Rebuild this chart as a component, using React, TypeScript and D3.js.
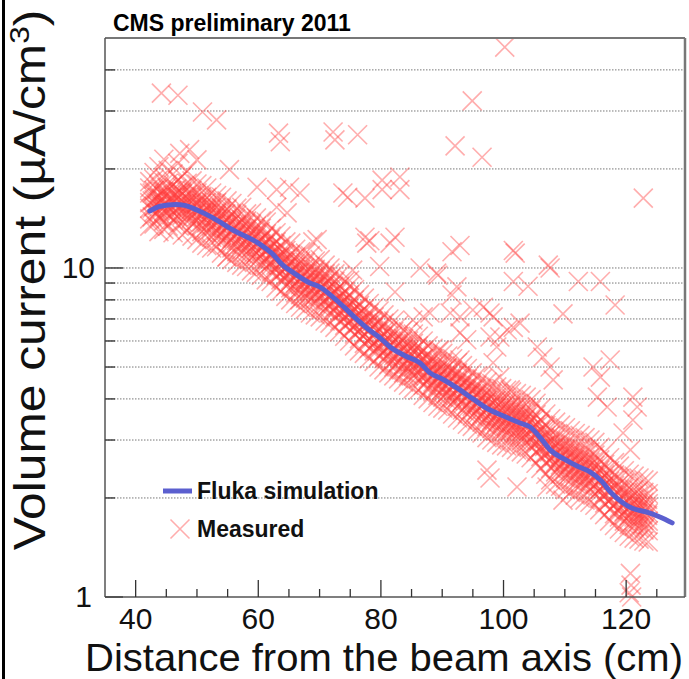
import React from "react";
import * as d3 from "d3";

const W = 689;
const H = 679;

// Fluka simulation curve (distance cm, current µA/cm³)
const flukaX = [42.3, 44, 46.5, 48, 50, 52.6, 56, 60, 62.4, 64, 66, 68.4, 70, 71.7, 74, 76, 78, 80, 81.5, 84, 86.4, 88, 90, 92.9, 95, 97.8, 100, 102.7, 104.3, 106, 107.6, 110, 112, 114.1, 116, 117.5, 119.5, 121, 123.4, 125.5, 127.5];
const flukaY = [14.9, 15.4, 15.6, 15.5, 15.0, 14.2, 13.0, 11.9, 11.0, 10.2, 9.6, 9.0, 8.76, 8.3, 7.6, 7.0, 6.5, 6.1, 5.75, 5.4, 5.14, 4.8, 4.6, 4.26, 4.0, 3.7, 3.55, 3.38, 3.29, 3.05, 2.8, 2.62, 2.5, 2.4, 2.25, 2.08, 1.93, 1.86, 1.81, 1.75, 1.68];

// Measured points: wide band, grouped by distance
const measuredBand: [number, number[]][] = [
  [42.3, [13.4, 14.1, 15.2, 15.8, 16.9, 17.5, 18.3]],
  [43.0, [13.6, 14.8, 15.4, 16.1, 17.2, 18.6, 19.5]],
  [43.8, [12.9, 14.2, 15.0, 15.9, 16.4, 17.8, 20.3]],
  [44.6, [13.1, 13.9, 14.9, 15.6, 16.5, 17.1, 18.8, 21.4]],
  [45.3, [13.4, 14.6, 15.3, 16.2, 17.3, 18.1, 19.8]],
  [46.1, [12.8, 14.0, 14.8, 15.9, 16.6, 17.9, 19.3]],
  [46.9, [13.5, 14.3, 15.2, 16.3, 17.0, 18.5, 20.8]],
  [47.6, [12.6, 13.8, 14.9, 15.6, 16.8, 17.6, 19.0]],
  [48.4, [13.0, 14.2, 15.1, 15.8, 16.7, 18.1, 19.7]],
  [49.2, [12.5, 13.6, 14.4, 15.4, 16.4, 17.2, 18.4]],
  [50.0, [12.2, 13.4, 14.3, 15.0, 15.8, 16.9, 18.0]],
  [50.8, [11.9, 12.9, 13.8, 14.7, 15.7, 16.5, 17.8]],
  [51.6, [11.7, 12.8, 13.7, 14.6, 15.3, 16.4, 17.5]],
  [52.4, [11.5, 12.4, 13.4, 14.1, 15.1, 15.8, 16.9]],
  [53.2, [11.6, 12.3, 13.0, 13.9, 14.7, 15.8, 16.6]],
  [54.0, [11.1, 12.1, 12.8, 13.6, 14.5, 15.2, 16.4]],
  [54.9, [10.8, 11.8, 12.5, 13.4, 14.0, 15.1, 16.0]],
  [55.7, [10.6, 11.5, 12.3, 13.1, 13.8, 14.6, 15.7]],
  [56.5, [10.4, 11.2, 12.1, 12.8, 13.5, 14.5, 15.2]],
  [57.3, [10.2, 11.1, 11.8, 12.6, 13.3, 14.0, 15.3]],
  [58.1, [10.1, 10.8, 11.6, 12.2, 13.1, 13.9, 14.6]],
  [58.9, [9.8, 10.7, 11.5, 12.1, 12.8, 13.6, 14.7]],
  [59.7, [9.7, 10.5, 11.1, 11.9, 12.7, 13.4, 14.2]],
  [60.5, [9.5, 10.2, 11.0, 11.6, 12.2, 13.2, 13.9]],
  [61.3, [9.2, 10.1, 10.7, 11.4, 12.0, 12.7, 13.8]],
  [62.1, [9.1, 9.7, 10.4, 11.1, 11.6, 12.5, 13.2]],
  [62.9, [8.7, 9.5, 10.2, 10.7, 11.4, 12.0, 12.8]],
  [63.7, [8.5, 9.2, 9.7, 10.4, 10.9, 11.7, 12.5]],
  [64.5, [8.2, 8.8, 9.5, 10.0, 10.7, 11.3, 12.0]],
  [65.3, [8.0, 8.7, 9.2, 9.8, 10.4, 11.0, 11.9]],
  [66.1, [7.8, 8.4, 9.0, 9.6, 10.1, 10.8, 11.4]],
  [66.9, [7.6, 8.3, 8.9, 9.3, 9.9, 10.5, 11.2]],
  [67.7, [7.5, 8.1, 8.6, 9.2, 9.7, 10.4, 11.1]],
  [68.5, [7.3, 8.0, 8.5, 9.0, 9.5, 10.1, 10.9]],
  [69.3, [7.2, 7.8, 8.3, 8.8, 9.4, 9.9, 10.5]],
  [70.1, [7.1, 7.6, 8.2, 8.7, 9.2, 9.8, 10.6]],
  [70.9, [6.9, 7.5, 8.0, 8.5, 9.0, 9.6, 10.2]],
  [71.7, [6.8, 7.3, 7.8, 8.3, 8.8, 9.3, 10.0]],
  [72.5, [6.6, 7.1, 7.6, 8.0, 8.5, 9.1, 9.6]],
  [73.3, [6.4, 6.9, 7.4, 7.8, 8.2, 8.8, 9.5]],
  [74.1, [6.2, 6.7, 7.1, 7.5, 8.0, 8.5, 9.1]],
  [74.9, [6.0, 6.5, 6.9, 7.3, 7.8, 8.3, 8.8]],
  [75.7, [5.8, 6.3, 6.7, 7.1, 7.5, 8.0, 8.6]],
  [76.5, [5.6, 6.1, 6.5, 6.9, 7.3, 7.7, 8.3]],
  [77.3, [5.5, 5.9, 6.3, 6.7, 7.0, 7.5, 8.1]],
  [78.1, [5.3, 5.7, 6.1, 6.5, 6.9, 7.3, 7.8]],
  [78.9, [5.2, 5.6, 5.9, 6.3, 6.7, 7.1, 7.6]],
  [79.7, [5.0, 5.4, 5.8, 6.1, 6.5, 6.9, 7.4]],
  [80.5, [4.9, 5.3, 5.6, 6.0, 6.3, 6.8, 7.2]],
  [81.3, [4.8, 5.1, 5.5, 5.8, 6.1, 6.5, 7.0]],
  [82.1, [4.7, 5.0, 5.4, 5.7, 6.0, 6.4, 6.9]],
  [82.9, [4.6, 4.9, 5.2, 5.5, 5.9, 6.2, 6.7]],
  [83.7, [4.5, 4.8, 5.1, 5.4, 5.7, 6.1, 6.5]],
  [84.5, [4.4, 4.7, 5.0, 5.3, 5.6, 6.0, 6.4]],
  [85.3, [4.3, 4.7, 5.0, 5.2, 5.6, 5.9, 6.3]],
  [86.1, [4.25, 4.6, 4.9, 5.2, 5.5, 5.8, 6.2]],
  [86.9, [4.1, 4.4, 4.7, 5.0, 5.3, 5.6, 6.0]],
  [87.7, [4.0, 4.3, 4.6, 4.85, 5.1, 5.45, 5.8]],
  [88.5, [3.9, 4.2, 4.5, 4.75, 5.0, 5.3, 5.7]],
  [89.3, [3.8, 4.1, 4.4, 4.65, 4.9, 5.2, 5.6]],
  [90.1, [3.75, 4.05, 4.3, 4.6, 4.85, 5.15, 5.5]],
  [90.9, [3.7, 3.95, 4.2, 4.5, 4.75, 5.0, 5.4]],
  [91.7, [3.6, 3.9, 4.15, 4.4, 4.65, 4.9, 5.3]],
  [92.5, [3.5, 3.8, 4.05, 4.3, 4.55, 4.8, 5.15]],
  [93.3, [3.45, 3.7, 3.95, 4.2, 4.45, 4.7, 5.05]],
  [94.1, [3.35, 3.6, 3.85, 4.1, 4.35, 4.6, 4.95]],
  [94.9, [3.3, 3.55, 3.8, 4.0, 4.25, 4.5, 4.8]],
  [95.7, [3.2, 3.45, 3.7, 3.9, 4.15, 4.4, 4.7]],
  [96.5, [3.15, 3.4, 3.6, 3.85, 4.05, 4.3, 4.6]],
  [97.3, [3.05, 3.3, 3.55, 3.75, 3.95, 4.2, 4.5]],
  [98.1, [3.0, 3.25, 3.45, 3.65, 3.9, 4.15, 4.45]],
  [98.9, [2.95, 3.2, 3.4, 3.6, 3.8, 4.05, 4.35]],
  [99.7, [2.9, 3.15, 3.35, 3.55, 3.75, 4.0, 4.3]],
  [100.5, [2.88, 3.1, 3.3, 3.5, 3.72, 3.95, 4.25]],
  [101.3, [2.85, 3.05, 3.28, 3.45, 3.68, 3.9, 4.2]],
  [102.1, [2.8, 3.0, 3.22, 3.4, 3.62, 3.85, 4.15]],
  [102.9, [2.76, 2.98, 3.18, 3.38, 3.58, 3.8, 4.1]],
  [103.7, [2.72, 2.94, 3.13, 3.32, 3.52, 3.75, 4.05]],
  [104.5, [2.65, 2.88, 3.07, 3.25, 3.46, 3.7, 3.98]],
  [105.3, [2.55, 2.76, 2.96, 3.15, 3.35, 3.58, 3.88]],
  [106.1, [2.46, 2.67, 2.86, 3.03, 3.22, 3.45, 3.75]],
  [106.9, [2.36, 2.56, 2.74, 2.9, 3.1, 3.32, 3.6]],
  [107.7, [2.27, 2.46, 2.64, 2.8, 2.98, 3.2, 3.48]],
  [108.5, [2.2, 2.4, 2.57, 2.73, 2.9, 3.12, 3.4]],
  [109.3, [2.17, 2.36, 2.52, 2.68, 2.86, 3.06, 3.33]],
  [110.1, [2.12, 2.3, 2.46, 2.62, 2.8, 3.0, 3.27]],
  [110.9, [2.08, 2.26, 2.42, 2.57, 2.74, 2.94, 3.2]],
  [111.7, [2.04, 2.21, 2.37, 2.52, 2.69, 2.88, 3.14]],
  [112.5, [2.0, 2.18, 2.33, 2.48, 2.65, 2.84, 3.1]],
  [113.3, [1.97, 2.14, 2.29, 2.44, 2.61, 2.8, 3.05]],
  [114.1, [1.94, 2.11, 2.25, 2.4, 2.57, 2.76, 3.0]],
  [114.9, [1.9, 2.06, 2.2, 2.35, 2.51, 2.7, 2.95]],
  [115.7, [1.84, 1.99, 2.13, 2.27, 2.43, 2.61, 2.85]],
  [116.5, [1.78, 1.93, 2.07, 2.2, 2.35, 2.53, 2.76]],
  [117.3, [1.7, 1.84, 1.97, 2.1, 2.25, 2.42, 2.65]],
  [118.1, [1.65, 1.79, 1.91, 2.04, 2.18, 2.35, 2.56]],
  [118.9, [1.61, 1.75, 1.87, 1.99, 2.13, 2.29, 2.5]],
  [119.7, [1.57, 1.7, 1.82, 1.93, 2.07, 2.22, 2.42]],
  [120.5, [1.53, 1.66, 1.77, 1.88, 2.01, 2.16, 2.36]],
  [121.3, [1.51, 1.64, 1.75, 1.86, 1.99, 2.13, 2.33]],
  [122.1, [1.5, 1.62, 1.73, 1.84, 1.97, 2.11, 2.3]],
  [122.9, [1.48, 1.6, 1.71, 1.82, 1.94, 2.08, 2.27]],
  [123.6, [1.47, 1.59, 1.7, 1.8, 1.92, 2.06, 2.25]],
];

// Measured points: dense core close to the simulation
const measuredCore: [number, number[]][] = [
  [42.7, [14.3, 15.2, 16.0, 16.9]], [43.5, [14.6, 15.5, 16.4, 17.3]], [44.3, [14.4, 15.4, 16.2, 17.1]],
  [45.1, [14.7, 15.6, 16.5, 17.6]], [45.9, [14.5, 15.3, 16.3, 17.2]], [46.7, [14.8, 15.7, 16.6, 17.4]],
  [47.5, [14.4, 15.4, 16.1, 17.0]], [48.3, [14.6, 15.5, 16.4, 17.3]], [49.1, [14.2, 15.1, 15.9, 16.8]],
  [49.9, [13.9, 14.8, 15.6, 16.4]], [50.7, [13.5, 14.4, 15.2, 16.1]], [51.5, [13.3, 14.2, 15.0, 15.8]],
  [52.3, [13.1, 13.9, 14.7, 15.5]], [53.1, [12.8, 13.7, 14.4, 15.3]], [53.9, [12.6, 13.4, 14.1, 14.9]],
  [54.7, [12.3, 13.2, 13.9, 14.6]], [55.5, [12.1, 12.9, 13.6, 14.4]], [56.3, [11.8, 12.6, 13.3, 14.1]],
  [57.1, [11.6, 12.4, 13.0, 13.8]], [57.9, [11.4, 12.2, 12.8, 13.6]], [58.7, [11.2, 12.0, 12.6, 13.4]],
  [59.5, [11.0, 11.8, 12.4, 13.1]], [60.3, [10.8, 11.6, 12.1, 12.9]], [61.1, [10.5, 11.2, 11.8, 12.5]],
  [61.9, [10.3, 11.0, 11.5, 12.2]], [62.7, [9.9, 10.6, 11.2, 11.8]], [63.5, [9.6, 10.2, 10.8, 11.4]],
  [64.3, [9.3, 9.9, 10.4, 11.0]], [65.1, [9.0, 9.6, 10.2, 10.7]], [65.9, [8.8, 9.4, 9.9, 10.5]],
  [66.7, [8.6, 9.2, 9.7, 10.3]], [67.5, [8.5, 9.0, 9.5, 10.0]], [68.3, [8.3, 8.9, 9.3, 9.9]],
  [69.1, [8.2, 8.7, 9.2, 9.7]], [69.9, [8.1, 8.6, 9.0, 9.6]], [70.7, [7.9, 8.4, 8.8, 9.4]],
  [71.5, [7.7, 8.2, 8.6, 9.1]], [72.3, [7.4, 7.9, 8.4, 8.8]], [73.1, [7.2, 7.7, 8.1, 8.6]],
  [73.9, [7.0, 7.4, 7.9, 8.3]], [74.7, [6.8, 7.2, 7.6, 8.1]], [75.5, [6.6, 7.0, 7.4, 7.8]],
  [76.3, [6.4, 6.8, 7.2, 7.6]], [77.1, [6.2, 6.6, 6.9, 7.3]], [77.9, [6.0, 6.4, 6.7, 7.1]],
  [78.7, [5.8, 6.2, 6.6, 6.9]], [79.5, [5.7, 6.1, 6.4, 6.8]], [80.3, [5.5, 5.9, 6.2, 6.6]],
  [81.1, [5.4, 5.7, 6.0, 6.4]], [81.9, [5.2, 5.6, 5.9, 6.2]], [82.7, [5.15, 5.5, 5.8, 6.1]],
  [83.5, [5.0, 5.4, 5.65, 6.0]], [84.3, [4.95, 5.25, 5.55, 5.85]], [85.1, [4.85, 5.2, 5.45, 5.75]],
  [85.9, [4.8, 5.1, 5.4, 5.7]], [86.7, [4.65, 4.95, 5.25, 5.55]], [87.5, [4.5, 4.8, 5.05, 5.35]],
  [88.3, [4.4, 4.7, 4.9, 5.2]], [89.1, [4.3, 4.6, 4.85, 5.1]], [89.9, [4.25, 4.5, 4.75, 5.0]],
  [90.7, [4.15, 4.4, 4.65, 4.95]], [91.5, [4.05, 4.35, 4.55, 4.85]], [92.3, [4.0, 4.25, 4.45, 4.75]],
  [93.1, [3.9, 4.15, 4.35, 4.6]], [93.9, [3.8, 4.05, 4.25, 4.5]], [94.7, [3.7, 3.95, 4.15, 4.4]],
  [95.5, [3.65, 3.85, 4.1, 4.3]], [96.3, [3.55, 3.8, 4.0, 4.2]], [97.1, [3.45, 3.7, 3.9, 4.1]],
  [97.9, [3.4, 3.6, 3.8, 4.05]], [98.7, [3.35, 3.55, 3.75, 3.95]], [99.5, [3.3, 3.5, 3.7, 3.9]],
  [100.3, [3.25, 3.45, 3.65, 3.85]], [101.1, [3.2, 3.4, 3.6, 3.8]], [101.9, [3.15, 3.35, 3.55, 3.75]],
  [102.7, [3.1, 3.3, 3.5, 3.7]], [103.5, [3.05, 3.27, 3.45, 3.65]], [104.3, [3.0, 3.22, 3.4, 3.6]],
  [105.1, [2.92, 3.1, 3.28, 3.48]], [105.9, [2.82, 3.0, 3.17, 3.36]], [106.7, [2.7, 2.87, 3.03, 3.22]],
  [107.5, [2.59, 2.76, 2.91, 3.08]], [108.3, [2.52, 2.68, 2.84, 3.0]], [109.1, [2.47, 2.63, 2.78, 2.94]],
  [109.9, [2.41, 2.57, 2.72, 2.88]], [110.7, [2.36, 2.52, 2.67, 2.82]], [111.5, [2.32, 2.47, 2.62, 2.77]],
  [112.3, [2.28, 2.43, 2.57, 2.72]], [113.1, [2.24, 2.39, 2.53, 2.68]], [113.9, [2.21, 2.35, 2.49, 2.64]],
  [114.7, [2.17, 2.31, 2.45, 2.59]], [115.5, [2.1, 2.24, 2.38, 2.52]], [116.3, [2.03, 2.17, 2.29, 2.43]],
  [117.1, [1.95, 2.08, 2.2, 2.33]], [117.9, [1.89, 2.01, 2.13, 2.26]], [118.7, [1.83, 1.95, 2.07, 2.19]],
  [119.5, [1.77, 1.89, 2.0, 2.12]], [120.3, [1.74, 1.85, 1.96, 2.08]], [121.1, [1.7, 1.82, 1.92, 2.04]],
  [121.9, [1.69, 1.8, 1.9, 2.02]], [122.7, [1.67, 1.78, 1.89, 2.0]], [123.5, [1.66, 1.77, 1.87, 1.98]],
];

// Measured points: scattered outliers
const outliers: [number, number][] = [
  [44.2, 34.0], [46.9, 33.5], [50.9, 29.8], [53.2, 28.2], [63.3, 25.7], [63.6, 24.2],
  [47.2, 22.3], [48.8, 22.9], [50.0, 21.3], [55.3, 19.9], [59.8, 17.6], [63.0, 17.3], [65.1, 17.6],
  [63.0, 15.3], [64.7, 14.7], [69.6, 12.2], [73.8, 16.9],
  [100.2, 46.9], [94.9, 32.2], [72.2, 25.9], [72.5, 24.5], [76.2, 25.4], [92.1, 23.5], [96.5, 21.7],
  [66.8, 16.9], [74.6, 16.4], [77.4, 16.3], [80.2, 18.5], [80.2, 17.3], [83.1, 18.9], [83.1, 17.3], [122.8, 16.3],
  [68.9, 12.0], [77.4, 12.4], [78.2, 12.1], [82.3, 12.4], [79.8, 10.1], [86.4, 10.0], [89.3, 9.5], [91.6, 11.2], [92.9, 11.7],
  [101.9, 11.1], [101.6, 9.1], [104.0, 8.8], [107.3, 10.2], [107.6, 10.0], [112.2, 9.1], [115.8, 9.1], [118.2, 7.72], [109.7, 7.25],
  [82.3, 8.45], [91.6, 8.28], [74.9, 9.18], [85.2, 6.95], [86.9, 7.1], [91.3, 7.3], [95.0, 7.45], [97.8, 7.3], [102.7, 6.8], [100.6, 6.48], [97.8, 6.17],
  [77.7, 11.9], [81.5, 11.9], [101.6, 11.3], [89.1, 9.65], [92.4, 8.76], [88.0, 7.3], [92.9, 7.1], [96.7, 7.6], [98.3, 7.1],
  [99.4, 6.17], [101.6, 6.6], [92.9, 6.35], [94.0, 6.05], [98.3, 5.15], [92.9, 5.25], [89.6, 5.63], [71.7, 9.65], [75.4, 9.85],
  [98.9, 5.75], [105.5, 5.75], [106.4, 5.36], [107.6, 5.0], [114.6, 5.0], [117.4, 5.25], [115.8, 4.66], [99.4, 4.66], [101.1, 4.26],
  [108.1, 4.57], [115.3, 4.05], [116.9, 3.78], [121.1, 4.05], [121.8, 3.78], [121.1, 3.45], [119.5, 3.15], [120.7, 2.8],
  [102.2, 2.16], [107.1, 2.16], [109.7, 1.97], [97.3, 2.43], [97.8, 2.3], [66.8, 8.0], [54.9, 10.8],
  [120.7, 1.18], [120.8, 1.087], [120.5, 1.03], [120.9, 1.0],
];

const xMajorTicks = [40, 60, 80, 100, 120];
const xMinorTicks = [45, 50, 55, 65, 70, 75, 85, 90, 95, 105, 110, 115, 125];
const yMajorTicks = [1, 10];
const yMinorTicks = [2, 3, 4, 5, 6, 7, 8, 9, 20, 30, 40];
const gridValues = [2, 3, 4, 5, 6, 7, 8, 9, 10, 20, 30, 40];

const FONT = "'Liberation Sans', Arial, Helvetica, sans-serif";
const MARK = "rgb(255,60,60)";
const BLUE = "#5b5fcf";

export default function App() {
  const left = 105, right = 685, top = 38, bottom = 597;
  const x = d3.scaleLinear().domain([35, 129.6]).range([left, right]);
  const y = d3.scaleLog().domain([1, 50]).range([bottom, top]);

  const pts: [number, number][] = [];
  measuredBand.forEach(([cx, ys]) => ys.forEach((v) => pts.push([cx, v])));
  measuredCore.forEach(([cx, ys]) => ys.forEach((v) => pts.push([cx, v])));
  outliers.forEach((p) => pts.push(p));

  const s = 9.5;
  const cross = (px: number, py: number) =>
    `M${px - s},${py - s}L${px + s},${py + s}M${px - s},${py + s}L${px + s},${py - s}`;

  const line = d3
    .line<number>()
    .x((_, i) => x(flukaX[i]))
    .y((d) => y(d))
    .curve(d3.curveMonotoneX);

  return (
    <svg
      width={W}
      height={H}
      style={{ position: "absolute", left: 0, top: 0, background: "#fff" }}
      fontFamily={FONT}
    >
      <rect x={0} y={0} width={W} height={H} fill="#fff" />
      <rect x={2} y={0} width={3} height={H} fill="#000" />

      {/* grid */}
      {gridValues.map((v) => (
        <line key={"g" + v} x1={left} x2={right} y1={y(v)} y2={y(v)} stroke="#777" strokeWidth={1} strokeDasharray="1.5 1.5" />
      ))}

      {/* measured */}
      <g stroke={MARK} strokeOpacity={0.42} strokeWidth={1.6} fill="none">
        {pts.map(([a, b], i) => (
          <path key={i} d={cross(x(a), y(b))} />
        ))}
      </g>

      {/* fluka */}
      <path d={line(flukaY) || ""} stroke={BLUE} strokeWidth={5} fill="none" strokeLinecap="round" strokeLinejoin="round" />

      {/* frame */}
      <line x1={left} x2={right} y1={top} y2={top} stroke="#777" strokeWidth={2} />
      <line x1={right} x2={right} y1={top} y2={bottom} stroke="#777" strokeWidth={2.5} />
      <line x1={left} x2={left} y1={top} y2={bottom} stroke="#555" strokeWidth={1.5} />
      <line x1={left} x2={right} y1={bottom} y2={bottom} stroke="#555" strokeWidth={1.5} />

      {/* x ticks */}
      {xMajorTicks.map((t) => (
        <g key={"xm" + t}>
          <line x1={x(t)} x2={x(t)} y1={bottom} y2={bottom - 17} stroke="#333" strokeWidth={1.3} />
          <text x={x(t)} y={629} textAnchor="middle" fontSize={30} fill="#111">{t}</text>
        </g>
      ))}
      {xMinorTicks.map((t) => (
        <line key={"xn" + t} x1={x(t)} x2={x(t)} y1={bottom} y2={bottom - 8} stroke="#333" strokeWidth={1.3} />
      ))}

      {/* y ticks */}
      {yMajorTicks.map((t) => (
        <g key={"ym" + t}>
          <line x1={left} x2={left + 18} y1={y(t)} y2={y(t)} stroke="#444" strokeWidth={1.5} />
          <text x={t === 1 ? 92 : 95} y={y(t) + 10} textAnchor="end" fontSize={30} fill="#111">{t}</text>
        </g>
      ))}
      {yMinorTicks.map((t) => (
        <line key={"yn" + t} x1={left} x2={left + 10} y1={y(t)} y2={y(t)} stroke="#444" strokeWidth={1.5} />
      ))}

      {/* titles */}
      <text x={113} y={31} fontSize={23} fontWeight="bold" fill="#000">CMS preliminary 2011</text>
      <text x={85} y={671} fontSize={38.5} textLength={598} lengthAdjust="spacingAndGlyphs" fill="#111">
        Distance from the beam axis (cm)
      </text>
      <text transform="translate(45,280) rotate(-90) scale(1.13,1)" textAnchor="middle" fontSize={44} fill="#111">
        Volume current (µA/cm<tspan dy={-16} fontSize={28}>3</tspan><tspan dy={16}>)</tspan>
      </text>

      {/* legend */}
      <line x1={163} x2={192} y1={491} y2={491} stroke={BLUE} strokeWidth={5} />
      <text x={197} y={499} fontSize={23} fontWeight="bold" fill="#111">Fluka simulation</text>
      <path d={cross(180, 529)} stroke={MARK} strokeOpacity={0.42} strokeWidth={1.6} fill="none" />
      <text x={197} y={537} fontSize={23} fontWeight="bold" fill="#111">Measured</text>
    </svg>
  );
}
